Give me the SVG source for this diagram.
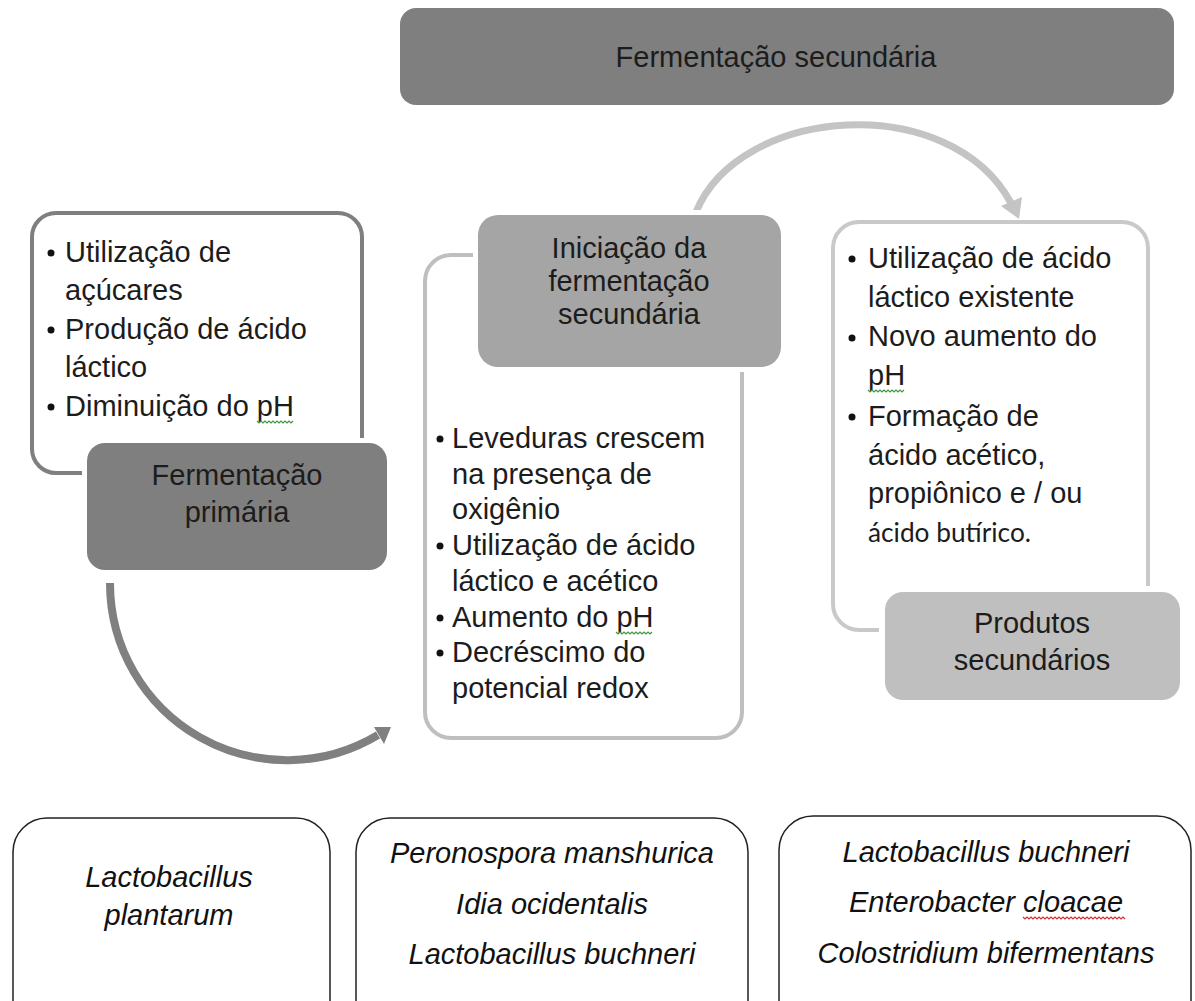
<svg xmlns="http://www.w3.org/2000/svg" width="1195" height="1001" viewBox="0 0 1195 1001">
<style>
text{font-family:"Liberation Sans",Arial,sans-serif;fill:#1c1c1c;}
.t{font-size:29px;}
.c{text-anchor:middle;}
.i{font-style:italic;font-size:29px;text-anchor:middle;fill:#111;}
.cal{font-family:Lato,"Liberation Sans",sans-serif;font-size:27px;}
.bl{fill:#111;}
.halo{fill:#fff;}
.sq{fill:none;stroke-width:1.2;}
</style>
<rect width="1195" height="1001" fill="#fff"/>

<g id="connectors">
  <path d="M110,583 A177,177 0 0 0 378,735" fill="none" stroke="#808080" stroke-width="8"/>
  <polygon points="391,727 374,727 384,744" fill="#808080"/>
  <path d="M696,212 C740,105 950,90 1011,203" fill="none" stroke="#c4c4c4" stroke-width="7"/>
  <polygon points="1019,219 1001,206 1022,197" fill="#c4c4c4"/>
</g>

<g id="top-title">
  <rect x="400" y="8" width="774" height="97" rx="16" fill="#7f7f7f"/>
  <text class="t c" x="776" y="67">Fermentação secundária</text>
</g>

<g id="primaria-details">
  <rect x="32" y="213" width="330" height="260" rx="24" fill="#fff" stroke="#7f7f7f" stroke-width="4"/>
  <circle class="bl" cx="51" cy="253" r="3.5"/>
  <circle class="bl" cx="51" cy="330" r="3.5"/>
  <circle class="bl" cx="51" cy="407" r="3.5"/>
  <text class="t" x="65" y="262">Utilização de</text>
  <text class="t" x="65" y="300">açúcares</text>
  <text class="t" x="65" y="339">Produção de ácido</text>
  <text class="t" x="65" y="377">láctico</text>
  <text class="t" x="65" y="416">Diminuição do pH</text>
  <path class="sq" stroke="#3c9a3c" d="M257,421 l2,2 l2,-2 l2,2 l2,-2 l2,2 l2,-2 l2,2 l2,-2 l2,2 l2,-2 l2,2 l2,-2 l2,2 l2,-2 l2,2 l2,-2 l2,2 l2,-2"/>
</g>

<g id="primaria">
  <rect class="halo" x="82" y="438" width="310" height="137" rx="22"/>
  <rect x="87" y="443" width="300" height="127" rx="18" fill="#7f7f7f"/>
  <text class="t c" x="237" y="485">Fermentação</text>
  <text class="t c" x="237" y="522">primária</text>
</g>

<g id="iniciacao-details">
  <rect x="425" y="255" width="317" height="483" rx="26" fill="#fff" stroke="#bfbfbf" stroke-width="4"/>
  <circle class="bl" cx="440" cy="439" r="3.5"/>
  <circle class="bl" cx="440" cy="546" r="3.5"/>
  <circle class="bl" cx="440" cy="618" r="3.5"/>
  <circle class="bl" cx="440" cy="653" r="3.5"/>
  <text class="t" x="452" y="448">Leveduras crescem</text>
  <text class="t" x="452" y="484">na presença de</text>
  <text class="t" x="452" y="519">oxigênio</text>
  <text class="t" x="452" y="555">Utilização de ácido</text>
  <text class="t" x="452" y="591">láctico e acético</text>
  <text class="t" x="452" y="627">Aumento do pH</text>
  <text class="t" x="452" y="662">Decréscimo do</text>
  <text class="t" x="452" y="698">potencial redox</text>
  <path class="sq" stroke="#3c9a3c" d="M616,632 l2,2 l2,-2 l2,2 l2,-2 l2,2 l2,-2 l2,2 l2,-2 l2,2 l2,-2 l2,2 l2,-2 l2,2 l2,-2 l2,2 l2,-2 l2,2 l2,-2"/>
</g>

<g id="iniciacao">
  <rect class="halo" x="473" y="210" width="313" height="162" rx="24"/>
  <rect x="478" y="215" width="303" height="152" rx="20" fill="#a5a5a5"/>
  <text class="t c" x="629" y="258">Iniciação da</text>
  <text class="t c" x="629" y="291">fermentação</text>
  <text class="t c" x="629" y="324">secundária</text>
</g>

<g id="produtos-details">
  <rect x="833" y="222" width="315" height="408" rx="26" fill="#fff" stroke="#c9c9c9" stroke-width="4"/>
  <circle class="bl" cx="852" cy="259" r="3.5"/>
  <circle class="bl" cx="852" cy="338" r="3.5"/>
  <circle class="bl" cx="852" cy="417" r="3.5"/>
  <text class="t" x="868" y="268">Utilização de ácido</text>
  <text class="t" x="868" y="307">láctico existente</text>
  <text class="t" x="868" y="346">Novo aumento do</text>
  <text class="t" x="868" y="385">pH</text>
  <text class="t" x="868" y="426">Formação de</text>
  <text class="t" x="868" y="465">ácido acético,</text>
  <text class="t" x="868" y="503">propiônico e / ou</text>
  <text class="cal" x="868" y="542" textLength="163" lengthAdjust="spacingAndGlyphs">ácido butírico.</text>
  <path class="sq" stroke="#3c9a3c" d="M868,390 l2,2 l2,-2 l2,2 l2,-2 l2,2 l2,-2 l2,2 l2,-2 l2,2 l2,-2 l2,2 l2,-2 l2,2 l2,-2 l2,2 l2,-2 l2,2 l2,-2"/>
</g>

<g id="produtos">
  <rect class="halo" x="879" y="586" width="307" height="120" rx="22"/>
  <rect x="885" y="592" width="295" height="108" rx="18" fill="#bfbfbf"/>
  <text class="t c" x="1032" y="633">Produtos</text>
  <text class="t c" x="1032" y="670">secundários</text>
</g>

<g id="org-primaria">
  <rect x="13" y="818" width="317" height="220" rx="34" fill="#fff" stroke="#222" stroke-width="1.5"/>
  <text class="i" x="169" y="887">Lactobacillus</text>
  <text class="i" x="169" y="925">plantarum</text>
</g>

<g id="org-iniciacao">
  <rect x="356" y="818" width="392" height="220" rx="34" fill="#fff" stroke="#222" stroke-width="1.5"/>
  <text class="i" x="552" y="863">Peronospora manshurica</text>
  <text class="i" x="552" y="914">Idia ocidentalis</text>
  <text class="i" x="552" y="964">Lactobacillus buchneri</text>
</g>

<g id="org-produtos">
  <rect x="779" y="816" width="412" height="222" rx="34" fill="#fff" stroke="#222" stroke-width="1.5"/>
  <text class="i" x="986" y="862">Lactobacillus buchneri</text>
  <text class="i" x="986" y="912">Enterobacter cloacae</text>
  <text class="i" x="986" y="963">Colostridium bifermentans</text>
  <path class="sq" stroke="#d03030" d="M1023,917 l2,2 l2,-2 l2,2 l2,-2 l2,2 l2,-2 l2,2 l2,-2 l2,2 l2,-2 l2,2 l2,-2 l2,2 l2,-2 l2,2 l2,-2 l2,2 l2,-2 l2,2 l2,-2 l2,2 l2,-2 l2,2 l2,-2 l2,2 l2,-2 l2,2 l2,-2 l2,2 l2,-2 l2,2 l2,-2 l2,2 l2,-2 l2,2 l2,-2 l2,2 l2,-2 l2,2 l2,-2 l2,2 l2,-2 l2,2 l2,-2 l2,2 l2,-2 l2,2 l2,-2 l2,2 l2,-2 l2,2"/>
</g>
</svg>
